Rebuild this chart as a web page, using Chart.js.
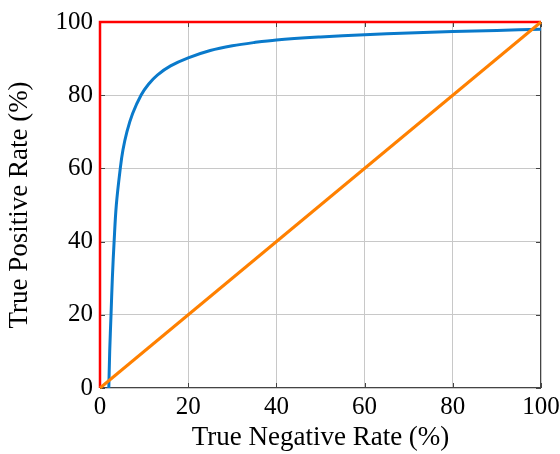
<!DOCTYPE html>
<html>
<head>
<meta charset="utf-8">
<script src="https://cdn.jsdelivr.net/npm/chart.js@4/dist/chart.umd.min.js"></script>
<style>
  html, body { margin: 0; padding: 0; background: #fff; }
  #wrap { width: 560px; height: 454px; position: relative; }
</style>
</head>
<body>
<div id="wrap"><canvas id="roc"></canvas></div>
<script>
// ROC-style plot: classifier curve vs. random guess and perfect classifier

const tickValues = [0, 20, 40, 60, 80, 100];

const rocX = [2, 2.2, 2.5, 2.8, 3.2, 3.7, 4.6, 5.2, 6.1, 7.4, 9.3, 11, 13, 16, 20, 25, 30, 35, 40, 50, 60, 70, 80, 90, 100];
const rocY = [0, 10, 20, 30, 40, 50, 60, 65, 70, 75, 80, 83, 85.5, 88, 90.2, 92.2, 93.5, 94.4, 95.1, 95.9, 96.5, 97, 97.4, 97.7, 98];

const randomX = [0, 100];
const randomY = [0, 100];

const perfectX = [0, 0, 100];
const perfectY = [0, 100, 100];

const toPoints = (xs, ys) => xs.map((x, i) => ({ x, y: ys[i] }));

const FONT = '"Liberation Serif", "DejaVu Serif", serif';

// frame + small inward tick marks like pgfplots
const framePlugin = {
  id: 'frame',
  beforeDatasetsDraw(chart) {
    const { ctx, chartArea: a, scales } = chart;
    ctx.save();
    ctx.strokeStyle = '#444';
    ctx.lineWidth = 1;
    ctx.strokeRect(a.left + 0.5, a.top + 0.5, a.right - a.left - 1, a.bottom - a.top - 1);
    ctx.beginPath();
    tickValues.forEach(v => {
      const px = Math.round(scales.x.getPixelForValue(v)) + 0.5;
      ctx.moveTo(px, a.bottom); ctx.lineTo(px, a.bottom - 5);
      ctx.moveTo(px, a.top); ctx.lineTo(px, a.top + 5);
      const py = Math.round(scales.y.getPixelForValue(v)) + 0.5;
      ctx.moveTo(a.left, py); ctx.lineTo(a.left + 5, py);
      ctx.moveTo(a.right, py); ctx.lineTo(a.right - 5, py);
    });
    ctx.stroke();
    ctx.restore();
  },
};

new Chart(document.getElementById('roc'), {
  type: 'line',
  data: {
    datasets: [
      {
        label: 'Perfect',
        data: toPoints(perfectX, perfectY),
        borderColor: '#ff0000',
        borderWidth: 2.5,
        pointRadius: 0,
        tension: 0,
        order: 3,
      },
      {
        label: 'ROC',
        data: toPoints(rocX, rocY),
        borderColor: '#0a7acb',
        borderWidth: 3,
        pointRadius: 0,
        tension: 0.35,
        order: 2,
      },
      {
        label: 'Random',
        data: toPoints(randomX, randomY),
        borderColor: '#ff8000',
        borderWidth: 3,
        pointRadius: 0,
        tension: 0,
        order: 1,
      },
    ],
  },
  options: {
    responsive: true,
    maintainAspectRatio: false,
    animation: false,
    clip: false,
    layout: { padding: { top: 22, right: 19, left: 4, bottom: 0 } },
    plugins: { legend: { display: false }, tooltip: { enabled: false } },
    scales: {
      x: {
        type: 'linear',
        min: 0,
        max: 100,
        afterBuildTicks: s => { s.ticks = tickValues.map(v => ({ value: v })); },
        afterFit: s => { s.height = 66; s.paddingLeft = 0; s.paddingRight = 0; },
        ticks: { color: '#000', font: { family: FONT, size: 25 }, padding: 4, maxRotation: 0 },
        grid: { color: '#c8c8c8', drawTicks: false },
        border: { display: false },
        title: {
          display: true,
          text: 'True Negative Rate (%)',
          color: '#000',
          font: { family: FONT, size: 27 },
          padding: { top: 0, bottom: 0 },
        },
      },
      y: {
        type: 'linear',
        min: 0,
        max: 100,
        afterBuildTicks: s => { s.ticks = tickValues.map(v => ({ value: v })); },
        afterFit: s => { s.width = 96; s.paddingTop = 0; s.paddingBottom = 0; },
        ticks: { color: '#000', font: { family: FONT, size: 25 }, padding: 7 },
        grid: { color: '#c8c8c8', drawTicks: false },
        border: { display: false },
        title: {
          display: true,
          text: 'True Positive Rate (%)',
          color: '#000',
          font: { family: FONT, size: 27 },
          padding: { top: 0, bottom: 0 },
        },
      },
    },
  },
  plugins: [framePlugin],
});
</script>
</body>
</html>
